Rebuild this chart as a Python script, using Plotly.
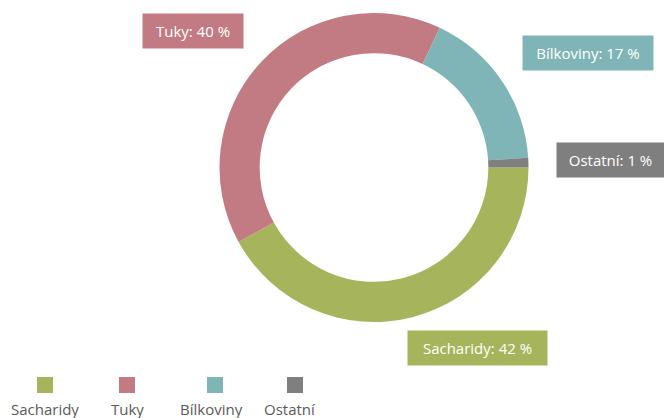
import plotly.graph_objects as go

categories = ["Sacharidy", "Tuky", "Bílkoviny", "Ostatní"]
values = [42, 40, 17, 1]
colors = ["#a6b55b", "#c27b82", "#7fb5b7", "#7f7f7f"]
label_texts = [f"{c}: {v} %" for c, v in zip(categories, values)]

W, H = 664, 418
cx, cy, R = 374, 167.5, 154.5

fig = go.Figure(go.Pie(
    labels=categories, values=values, hole=0.74, sort=False,
    direction="clockwise", rotation=90,
    marker=dict(colors=colors, line=dict(width=0)),
    textinfo="none", hoverinfo="label+percent", showlegend=False,
    domain=dict(x=[(cx - R) / W, (cx + R) / W], y=[1 - (cy + R) / H, 1 - (cy - R) / H]),
))

# label boxes (centre px, width px)
box_pos = [(477.5, 347.5, 139), (193, 31, 100), (588, 53.5, 130), (610.5, 160, 107)]
annotations = []
for txt, col, (bx, by, bw) in zip(label_texts, colors, box_pos):
    annotations.append(dict(
        x=bx / W, y=1 - by / H, xref="paper", yref="paper", text=txt,
        showarrow=False, bgcolor=col, width=bw, height=34, borderpad=0,
        font=dict(family="Open Sans", size=15, color="white"),
        xanchor="center", yanchor="middle"))

shapes = []
legend_sq_x = [45, 127, 215, 295]
legend_tx_x = [45, 127, 211, 290]
for name, col, lx, tx in zip(categories, colors, legend_sq_x, legend_tx_x):
    shapes.append(dict(type="rect", xref="paper", yref="paper",
                       x0=(lx - 8) / W, x1=(lx + 8) / W, y0=1 - 393 / H, y1=1 - 377 / H,
                       fillcolor=col, line=dict(width=0)))
    annotations.append(dict(x=tx / W, y=1 - 409 / H, xref="paper", yref="paper", text=name,
                            showarrow=False, xanchor="center", yanchor="middle",
                            font=dict(family="Open Sans", size=15, color="#5a5a5a")))

fig.update_layout(width=W, height=H, margin=dict(l=0, r=0, t=0, b=0),
                  paper_bgcolor="white", plot_bgcolor="white",
                  annotations=annotations, shapes=shapes)
fig.write_html("out.html")
